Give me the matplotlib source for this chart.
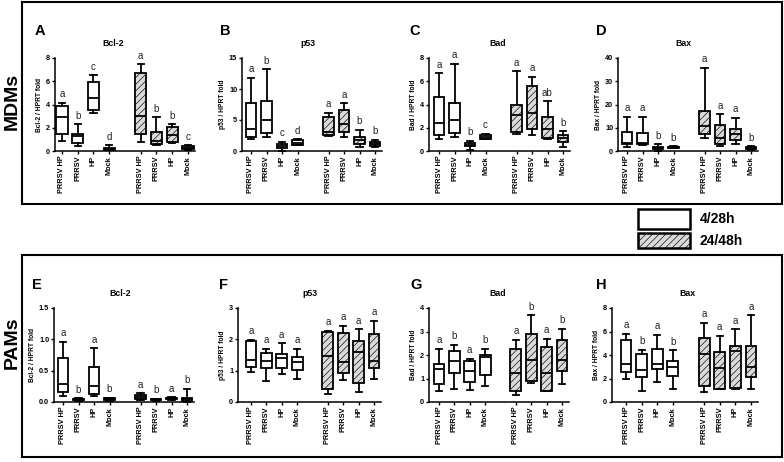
import numpy as np
import matplotlib
matplotlib.use('Agg')
import matplotlib.pyplot as plt
from matplotlib.patches import Rectangle

plt.rcParams['font.family'] = ['Liberation Sans', 'DejaVu Sans']
plt.rcParams['hatch.linewidth'] = 0.45

# groups (same order in every panel), 4 at 4/28h then 4 at 24/48h
groups = ['PRRSV HP', 'PRRSV', 'HP', 'Mock', 'PRRSV HP', 'PRRSV', 'HP', 'Mock']
positions = [1, 2, 3, 4, 6, 7, 8, 9]

# each row: whisker low, q1, median, q3, whisker high
mdm_bcl2 = [[0.9, 1.5, 2.9, 3.9, 4.15], [0.4, 0.65, 1.25, 1.5, 2.3],
            [3.3, 3.5, 4.55, 5.9, 6.5], [0.05, 0.1, 0.2, 0.25, 0.5],
            [0.8, 1.45, 3.0, 6.7, 7.45], [0.55, 0.6, 0.85, 1.6, 2.9],
            [0.65, 0.75, 1.4, 2.1, 2.3], [0.05, 0.15, 0.3, 0.4, 0.5]]
mdm_p53 = [[1.9, 2.3, 3.5, 7.7, 11.8], [2.3, 2.95, 5.0, 8.1, 13.2],
           [0.05, 0.55, 0.85, 1.1, 1.5], [0.9, 1.0, 1.35, 1.75, 1.9],
           [2.5, 2.6, 3.1, 5.5, 6.2], [2.3, 3.0, 4.35, 6.6, 7.7],
           [0.7, 1.1, 1.75, 2.2, 3.4], [0.6, 0.8, 1.1, 1.5, 1.8]]
mdm_bad = [[1.05, 1.4, 2.45, 4.65, 6.7], [1.2, 1.55, 2.7, 4.1, 7.5],
           [0.05, 0.4, 0.5, 0.65, 0.9], [1.0, 1.05, 1.2, 1.35, 1.5],
           [1.5, 1.6, 3.1, 3.95, 6.85], [1.4, 1.9, 3.3, 5.6, 6.4],
           [1.05, 1.1, 1.85, 2.9, 4.3], [0.35, 0.8, 1.1, 1.35, 1.7]]
mdm_bax = [[1.9, 2.9, 3.6, 8.3, 14.7], [2.7, 2.9, 3.4, 7.9, 14.7],
           [0.15, 1.0, 1.4, 1.9, 3.0], [1.1, 1.3, 1.6, 1.9, 2.1],
           [5.4, 7.1, 10.7, 17.1, 35.9], [2.1, 2.9, 5.4, 11.1, 15.7],
           [2.9, 4.7, 7.3, 9.3, 14.4], [0.6, 0.9, 1.1, 1.6, 2.0]]
pam_bcl2 = [[0.1, 0.16, 0.28, 0.7, 0.96], [0.02, 0.03, 0.04, 0.05, 0.06],
            [0.1, 0.13, 0.26, 0.56, 0.86], [0.02, 0.03, 0.04, 0.06, 0.07],
            [0.03, 0.04, 0.08, 0.11, 0.14], [0.02, 0.03, 0.04, 0.05, 0.05],
            [0.03, 0.04, 0.06, 0.07, 0.08], [0.0, 0.01, 0.04, 0.06, 0.21]]
pam_p53 = [[0.96, 1.13, 1.34, 1.94, 1.99], [0.67, 1.07, 1.32, 1.57, 1.70],
           [0.89, 1.07, 1.41, 1.54, 1.88], [0.72, 1.02, 1.29, 1.43, 1.70],
           [0.26, 0.43, 1.48, 2.22, 2.28], [0.70, 0.91, 1.29, 2.19, 2.44],
           [0.31, 0.62, 1.61, 1.95, 2.32], [0.75, 1.08, 1.32, 2.17, 2.60]]
pam_bad = [[0.48, 0.77, 1.40, 1.62, 2.27], [0.57, 1.23, 1.73, 2.16, 2.44],
           [0.51, 0.84, 1.30, 1.73, 1.84], [0.67, 1.13, 1.93, 2.01, 2.26],
           [0.31, 0.45, 1.23, 2.27, 2.64], [0.79, 0.88, 1.77, 2.91, 3.69],
           [0.45, 0.45, 1.23, 2.34, 2.70], [0.77, 1.30, 1.80, 2.62, 3.11]]
pam_bax = [[1.99, 2.52, 3.23, 5.28, 5.79], [0.96, 2.10, 2.72, 4.06, 4.43],
           [1.67, 2.78, 3.26, 4.54, 5.73], [1.11, 2.18, 3.01, 3.52, 4.40],
           [0.82, 1.33, 4.11, 5.45, 6.75], [1.13, 1.13, 2.89, 4.26, 5.62],
           [1.13, 1.19, 4.31, 4.79, 6.21], [1.13, 2.13, 2.98, 4.79, 7.38]]

letters_mdm_bcl2 = ['a', 'b', 'c', 'd', 'a', 'b', 'b', 'c']
letters_mdm_p53 = ['a', 'b', 'c', 'd', 'a', 'a', 'b', 'b']
letters_mdm_bad = ['a', 'a', 'b', 'c', 'a', 'a', 'ab', 'b']
letters_mdm_bax = ['a', 'a', 'b', 'b', 'a', 'a', 'a', 'b']
letters_pam_bcl2 = ['a', 'b', 'a', 'b', 'a', 'b', 'a', 'b']
letters_pam_p53 = ['a', 'a', 'a', 'a', 'a', 'a', 'a', 'a']
letters_pam_bad = ['a', 'b', 'a', 'b', 'a', 'b', 'a', 'b']
letters_pam_bax = ['a', 'b', 'a', 'b', 'a', 'a', 'a', 'a']

W, H = 784, 462
fig = plt.figure(figsize=(W / 100, H / 100), dpi=100)

HATCH_FACE = '#dadada'
HATCH = '/////'

# panel: letter, gene, data, letters, yticks, fmt, left px, c1 px, c9 px, row
panels = [
    ('A', 'Bcl-2', mdm_bcl2, letters_mdm_bcl2, [0, 2, 4, 6, 8], '%d', 55, 62, 188, 0),
    ('B', 'p53', mdm_p53, letters_mdm_p53, [0, 5, 10, 15], '%d', 242, 251, 375, 0),
    ('C', 'Bad', mdm_bad, letters_mdm_bad, [0, 2, 4, 6, 8], '%d', 429, 439, 563, 0),
    ('D', 'Bax', mdm_bax, letters_mdm_bax, [0, 10, 20, 30, 40], '%d', 618, 627, 751, 0),
    ('E', 'Bcl-2', pam_bcl2, letters_pam_bcl2, [0, 0.5, 1.0, 1.5], '%.1f', 54, 63, 187, 1),
    ('F', 'p53', pam_p53, letters_pam_p53, [0, 1, 2, 3], '%d', 238, 251, 374, 1),
    ('G', 'Bad', pam_bad, letters_pam_bad, [0, 1, 2, 3, 4], '%d', 429, 439, 562, 1),
    ('H', 'Bax', pam_bax, letters_pam_bax, [0, 2, 4, 6, 8], '%d', 612, 626, 751, 1),
]

row_y = {0: (151, 58), 1: (402, 308)}   # pixel y of zero and of top
letter_y = {0: 31, 1: 285}
title_y = {0: 43, 1: 293}

for let, gene, data, sig, yt, fmt, left, c1, c9, row in panels:
    s = (c9 - c1) / 8.0
    right = c9 + 7
    xmin = 1 - (c1 - left) / s
    xmax = 9 + (right - c9) / s
    y0, y1 = row_y[row]
    ax = fig.add_axes([left / W, 1 - y0 / H, (right - left) / W, (y0 - y1) / H])

    stats = []
    for r in data:
        stats.append(dict(whislo=r[0], q1=r[1], med=r[2], q3=r[3], whishi=r[4], fliers=[]))
    bp = ax.bxp(stats, positions=positions, widths=0.7, patch_artist=True,
                showfliers=False,
                boxprops=dict(linewidth=1.3, edgecolor='black'),
                medianprops=dict(color='black', linewidth=1.3),
                whiskerprops=dict(color='black', linewidth=1.3),
                capprops=dict(color='black', linewidth=1.3),
                capwidths=0.4)
    for i, b in enumerate(bp['boxes']):
        if i < 4:
            b.set_facecolor('white')
        else:
            b.set_facecolor(HATCH_FACE)
            b.set_hatch(HATCH)
    for art in bp['whiskers'] + bp['caps'] + bp['medians'] + bp['boxes']:
        art.set_clip_on(False)

    for p, r, t in zip(positions, data, sig):
        ax.annotate(t, (p, r[4]), xytext=(0, 2.5), textcoords='offset points',
                    ha='center', va='bottom', fontsize=7, color='#222222')

    ax.set_xlim(xmin, xmax)
    ax.set_ylim(0, yt[-1])
    ax.set_yticks(yt)
    ax.set_yticklabels([fmt % v for v in yt], fontsize=5.2, fontweight='bold')
    ax.set_xticks(positions)
    ax.set_xticklabels(groups, rotation=90, fontsize=5.3, fontweight='bold')
    ax.tick_params(axis='y', length=2.5, width=1, pad=1)
    ax.tick_params(axis='x', length=2, width=1, pad=1.5)
    for sp in ['top', 'right']:
        ax.spines[sp].set_visible(False)
    for sp in ['left', 'bottom']:
        ax.spines[sp].set_linewidth(1.1)
    ax.set_ylabel(gene + ' / HPRT fold', fontsize=4.8, fontweight='bold', labelpad=2)

    lx = {'A': 40, 'B': 225, 'C': 415, 'D': 601, 'E': 37, 'F': 224, 'G': 416, 'H': 601}[let]
    tx = {'A': 113, 'B': 308, 'C': 498, 'D': 683, 'E': 120, 'F': 310, 'G': 498, 'H': 687}[let]
    fig.text(lx / W, 1 - letter_y[row] / H, let, fontsize=10.5, fontweight='bold',
             ha='center', va='center')
    fig.text(tx / W, 1 - title_y[row] / H, gene, fontsize=6.3, fontweight='bold',
             ha='center', va='center')

# outer frames
for ytop, ybot in [(2, 204), (255, 457)]:
    fig.add_artist(Rectangle((22 / W, 1 - ybot / H), 760 / W, (ybot - ytop) / H,
                             transform=fig.transFigure, fill=False,
                             edgecolor='black', linewidth=1.5))

fig.text(12 / W, 1 - 101 / H, 'MDMs', rotation=90, fontsize=14, fontweight='bold',
         ha='center', va='center')
fig.text(12 / W, 1 - 343 / H, 'PAMs', rotation=90, fontsize=14, fontweight='bold',
         ha='center', va='center')

# legend
fig.add_artist(Rectangle((638 / W, 1 - 229 / H), 52 / W, 20 / H, transform=fig.transFigure,
                         facecolor='white', edgecolor='black', linewidth=1.8))
fig.add_artist(Rectangle((638 / W, 1 - 248 / H), 52 / W, 15 / H, transform=fig.transFigure,
                         facecolor=HATCH_FACE, hatch=HATCH, edgecolor='black', linewidth=1.8))
fig.text(700 / W, 1 - 219 / H, '4/28h', fontsize=10, fontweight='bold', va='center')
fig.text(700 / W, 1 - 241 / H, '24/48h', fontsize=10, fontweight='bold', va='center')

fig.savefig('out.png', dpi=100)
